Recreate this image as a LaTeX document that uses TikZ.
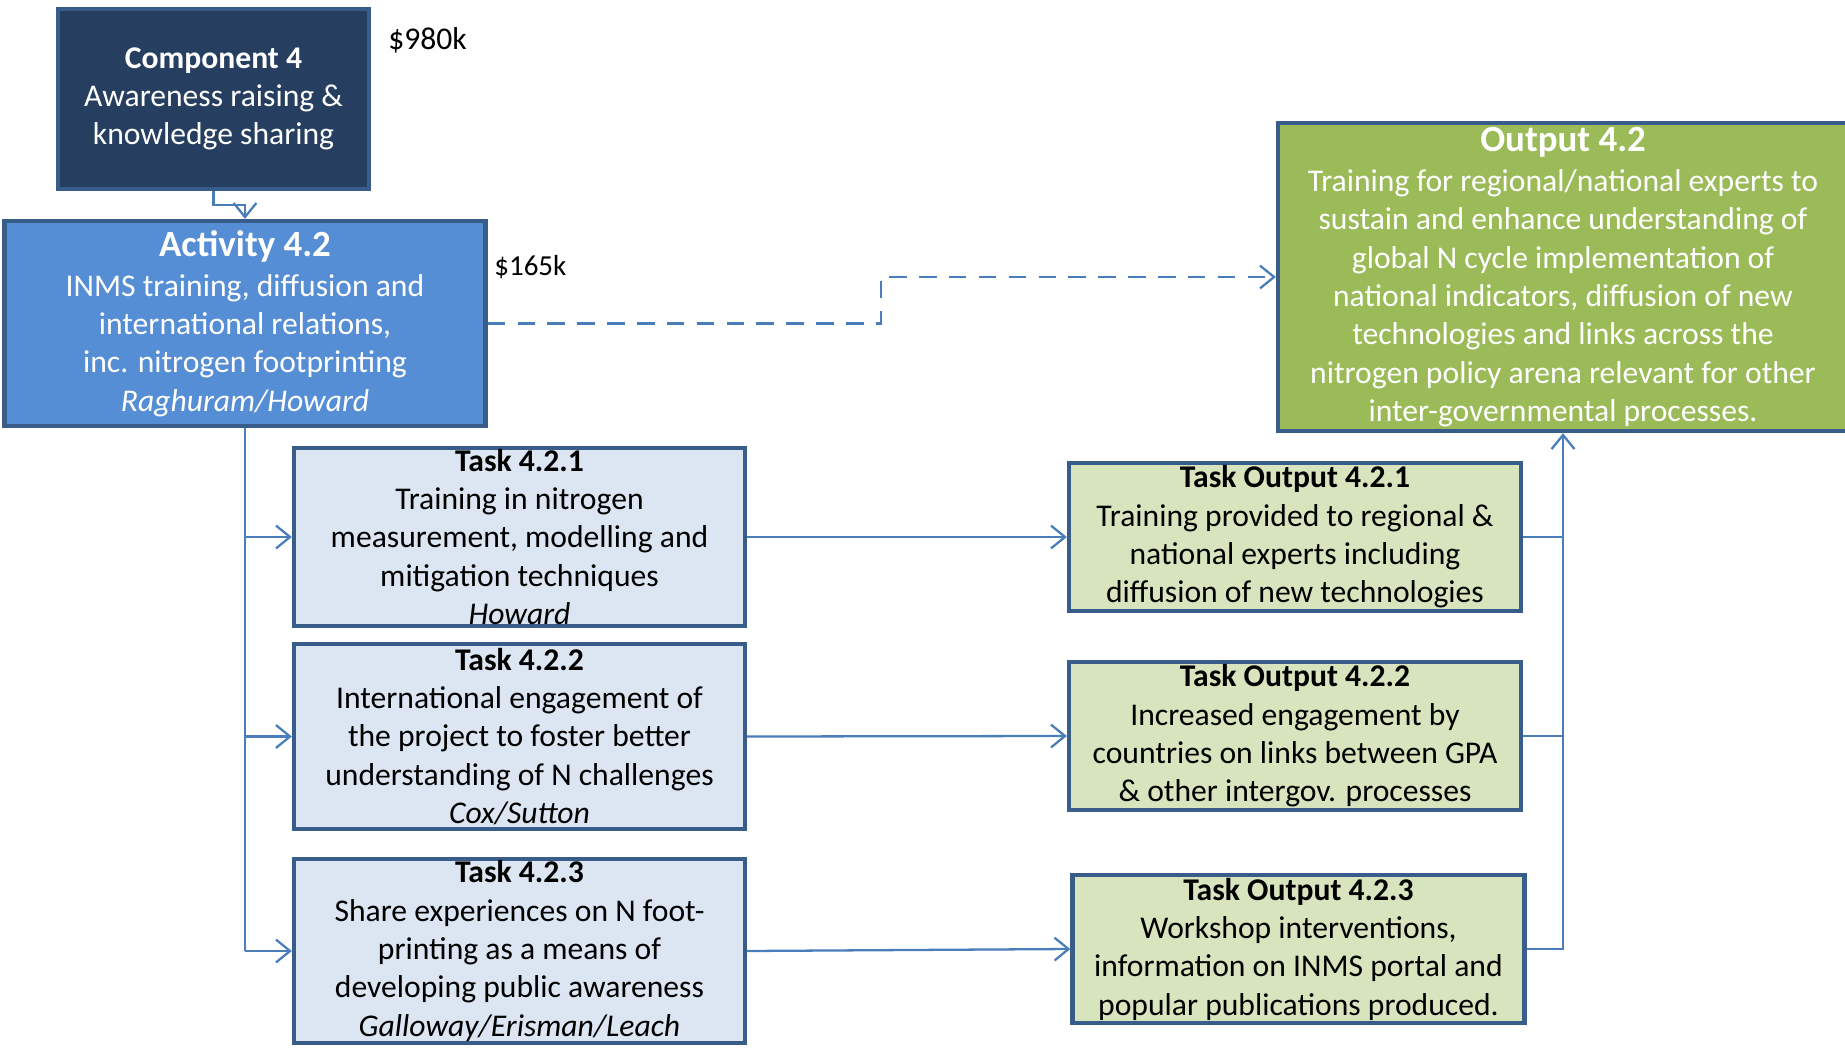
\documentclass[tikz,border=0pt]{standalone}
\usepackage{fontspec}
\setmainfont{Carlito}
\usetikzlibrary{arrows.meta}
\definecolor{edgeblue}{RGB}{56,93,138}
\definecolor{linkblue}{RGB}{74,126,187}
\definecolor{navyfill}{RGB}{38,63,96}
\definecolor{actfill}{RGB}{85,142,213}
\definecolor{greenfill}{RGB}{155,187,89}
\definecolor{taskfill}{RGB}{220,230,242}
\definecolor{tofill}{RGB}{215,228,189}
\newcommand{\bigtitle}[1]{{\fontsize{21}{25}\selectfont\bfseries #1}}

\begin{document}
\begin{tikzpicture}[x=0.02cm,y=-0.02cm,
  box/.style={draw=edgeblue,line width=2.5pt,align=center,inner sep=0pt,font=\fontsize{18}{21.8}\selectfont},
  taskbox/.style={box,fill=taskfill,minimum width=9.02cm},
  tobox/.style={box,fill=tofill,minimum width=9.04cm,minimum height=2.96cm},
  wire/.style={draw=linkblue,line width=1.3pt},
  link/.style={wire,-{Straight Barb[length=8pt,width=13pt]}},
  cost/.style={anchor=west,inner sep=0pt,font=\fontsize{18}{21.8}\selectfont}]
\useasboundingbox (0,0) rectangle (1845,1051);
\clip (0,0) rectangle (1845,1051);

\node (c4) at (213.5,99) [box,fill=navyfill,text=white,minimum width=6.22cm,minimum height=3.6cm]
  {\textbf{Component 4}\\Awareness raising \&\\knowledge sharing};
\node (a42) at (245,323.5) [box,fill=actfill,text=white,minimum width=9.62cm,minimum height=4.1cm]
  {\bigtitle{Activity 4.2}\\[1pt]INMS training, diffusion and\\international relations,\\inc. nitrogen footprinting\\\textit{Raghuram/Howard}};
\node (o42) at (1563,277) [box,fill=greenfill,text=white,minimum width=11.4cm,minimum height=6.16cm]
  {\bigtitle{Output 4.2}\\[1pt]Training for regional/national experts to\\sustain and enhance understanding of\\global N cycle implementation of\\national indicators, diffusion of new\\technologies and links across the\\nitrogen policy arena relevant for other\\inter-governmental processes.};

\node (k980) at (388,40) [cost] {\$980k};
\node (k165) at (494,267) [cost,font=\fontsize{16.5}{20}\selectfont] {\$165k};

\node (t421) at (519.5,537) [taskbox,minimum height=3.56cm]
  {\textbf{Task 4.2.1}\\Training in nitrogen\\measurement, modelling and\\mitigation techniques\\\textit{Howard}};
\node (t422) at (519.5,736.5) [taskbox,minimum height=3.7cm]
  {\textbf{Task 4.2.2}\\International engagement of\\the project to foster better\\understanding of N challenges\\\textit{Cox/Sutton}};
\node (t423) at (519.5,951) [taskbox,minimum height=3.68cm]
  {\textbf{Task 4.2.3}\\Share experiences on N foot-\\printing as a means of\\developing public awareness\\\textit{Galloway/Erisman/Leach}};

\node (to421) at (1295,537) [tobox]
  {\textbf{Task Output 4.2.1}\\Training provided to regional \&\\national experts including\\diffusion of new technologies};
\node (to422) at (1295,736) [tobox]
  {\textbf{Task Output 4.2.2}\\Increased engagement by\\countries on links between GPA\\\& other intergov. processes};
\node (to423) at (1298.5,949) [tobox]
  {\textbf{Task Output 4.2.3}\\Workshop interventions,\\information on INMS portal and\\popular publications produced.};

\draw [link] (c4.south) -- ++(0,14) -| (a42.north);
\draw [link,dash pattern=on 10 off 7] (a42.east) -- ++(393,0) |- (o42.west);

\draw [wire] (a42.south) -- (a42.south |- t423.west);
\draw [link] (a42.south |- t421.west) -- (t421.west);
\draw [link] (a42.south |- t422.west) -- (t422.west);
\draw [link] (a42.south |- t423.west) -- (t423.west);

\draw [link] (t421.east) -- (to421.west);
\draw [link] (t422.east) -- (to422.west);
\draw [link] (t423.east) -- (to423.west);

\draw [wire] (to421.east) -- (to421.east -| o42.south);
\draw [wire] (to422.east) -- (to422.east -| o42.south);
\draw [link] (to423.east) -| (o42.south);
\end{tikzpicture}
\end{document}
